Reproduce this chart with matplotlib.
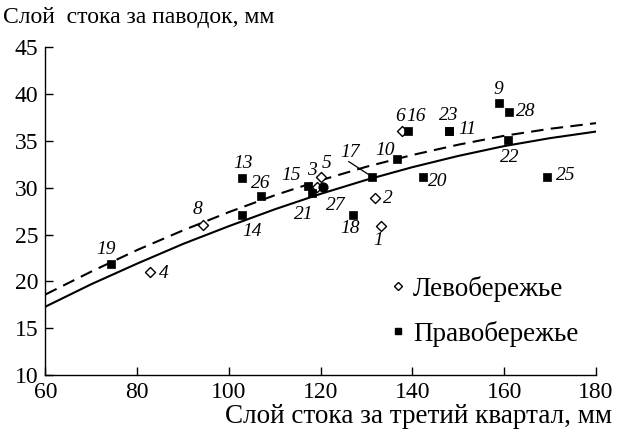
import matplotlib
matplotlib.use("Agg")
import matplotlib.pyplot as plt
from matplotlib.lines import Line2D

plt.rcParams['font.family'] = ['Liberation Serif', 'DejaVu Serif']

# Left bank (diamonds)
left_ids = ['1', '2', '3', '4', '5', '6', '8']
left_x = [133.1, 131.8, 119.1, 82.8, 120.1, 137.7, 94.4]
left_y = [25.9, 28.9, 30.1, 21.0, 31.2, 36.1, 26.0]

# Right bank (squares)
right_ids = ['9', '10', '11', '13', '14', '15', '16', '17', '18', '19', '20',
             '21', '22', '23', '25', '26', '28']
right_x = [158.9, 136.7, 148.0, 102.8, 102.8, 117.2, 139.1, 131.1, 127.1, 74.4,
           142.2, 118.0, 160.9, 148.0, 169.3, 107.0, 161.0]
right_y = [39.0, 33.1, 36.1, 31.0, 27.1, 30.2, 36.1, 31.2, 27.1, 21.9,
           31.1, 29.4, 35.1, 36.1, 31.1, 29.1, 38.1]

# Point 27 (drawn as filled dot)
dot_ids = ['27']
dot_x = [120.4]
dot_y = [30.1]

# Curves
curve_x = [60, 70, 80, 90, 100, 110, 120, 130, 140, 150, 160, 170, 180]
solid_y = [17.3, 19.7, 21.9, 24.0, 25.9, 27.7, 29.35, 30.85, 32.2, 33.4, 34.45, 35.3, 36.0]
dashed_y = [18.6, 21.05, 23.35, 25.45, 27.4, 29.2, 30.8, 32.25, 33.5, 34.6, 35.55, 36.3, 36.9]

x_ticks = [60, 80, 100, 120, 140, 160, 180]
y_ticks = [10, 15, 20, 25, 30, 35, 40, 45]

# label offsets in pixels (dx, dy up)
offsets = {
    '13': (1, 15), '26': (0, 13), '8': (-6, 16), '14': (10, -17), '15': (-17, 10),
    '3': (-5, 16), '5': (5, 13), '27': (13, -19), '21': (-8, -21), '17': (-22, 24),
    '10': (-12, 8), '2': (13, 0), '18': (-3, -14), '1': (-3, -14), '6': (-2, 14),
    '16': (8, 14), '23': (0, 15), '11': (18, 1), '9': (-1, 14), '28': (17, 0),
    '22': (1, -18), '20': (15, -4), '25': (19, 2), '19': (-5, 14), '4': (14, -1),
}

fig = plt.figure(figsize=(6.18, 4.36), dpi=100)
ax = fig.add_axes([0.0735, 0.1399, 0.8909, 0.7516])

ax.plot(curve_x, solid_y, color='black', lw=1.5, zorder=2)
ax.plot(curve_x, dashed_y, color='black', lw=1.5, dashes=(6, 3.5), zorder=2)

ax.scatter(left_x, left_y, marker='D', s=26, facecolor='white', edgecolor='black',
           linewidths=1.0, zorder=3)
ax.scatter(right_x, right_y, marker='s', s=34, facecolor='black', edgecolor='black',
           linewidths=0.5, zorder=4)
ax.scatter(dot_x, dot_y, marker='o', s=40, facecolor='black', edgecolor='black', zorder=4)

all_ids = left_ids + right_ids + dot_ids
all_x = left_x + right_x + dot_x
all_y = left_y + right_y + dot_y
for lab, x, y in zip(all_ids, all_x, all_y):
    dx, dy = offsets[lab]
    ax.annotate(lab, (x, y), xytext=(dx, dy), textcoords='offset pixels',
                ha='center', va='center', fontsize=14, style='italic', zorder=5)

# leader line for 17
i17 = right_ids.index('17')
ax.annotate('', (right_x[i17], right_y[i17]), xytext=(-23, 15), textcoords='offset pixels',
            xycoords='data',
            arrowprops=dict(arrowstyle='-', color='black', lw=0.9, shrinkA=0, shrinkB=3))

ax.set_xlim(60, 180)
ax.set_ylim(10, 45)
ax.set_xticks(x_ticks)
ax.set_yticks(y_ticks)
ax.tick_params(direction='in', length=6, width=1.0, labelsize=17, pad=5)
for s in ['top', 'right']:
    ax.spines[s].set_visible(False)
for s in ['left', 'bottom']:
    ax.spines[s].set_linewidth(1.0)

handles = [
    Line2D([], [], marker='D', ls='none', markersize=4.5, markerfacecolor='white',
           markeredgecolor='black', markeredgewidth=1.0, label='Левобережье'),
    Line2D([], [], marker='s', ls='none', markersize=5, markerfacecolor='black',
           markeredgecolor='black', label='Правобережье'),
]
ax.legend(handles=handles, loc='upper left', bbox_to_anchor=(0.628, 0.303),
          frameon=False, fontsize=19.5, handlelength=0.5, handletextpad=0.3,
          labelspacing=0.7, borderaxespad=0, borderpad=0)

fig.text(3 / 618, 1 - 18 / 436, 'Слой  стока за паводок, мм', fontsize=17,
         ha='left', va='center')
fig.text(612 / 618, 1 - 416 / 436, 'Слой стока за третий квартал, мм', fontsize=19.5,
         ha='right', va='center')

fig.savefig('out.png', dpi=100)
